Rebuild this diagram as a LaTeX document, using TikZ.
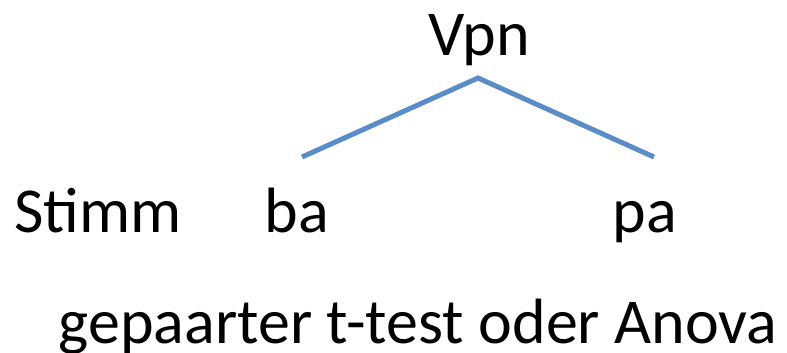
\documentclass[tikz,border=0pt]{standalone}
\usepackage{fontspec}
\setmainfont{Carlito}
\definecolor{branchblue}{RGB}{90,140,200}
\begin{document}
\begin{tikzpicture}[x=1pt,y=-1pt,
  lbl/.style={anchor=base,inner sep=0pt,font=\fontsize{64}{72}\selectfont},
  branch/.style={draw=branchblue,line width=5pt}]
\useasboundingbox (0,0) rectangle (787,353);
\node[lbl] (vpn) at (479,56) {Vpn};
\node[lbl,anchor=base west] (stimm) at (14,232) {Stimm};
\node[lbl] (ba) at (297,232) {ba};
\node[lbl] (pa) at (645,232) {pa};
\node[lbl] (test) at (418,343) {gepaarter t-test oder Anova};
\coordinate (top) at (478,78);
\coordinate (left) at (302,157);
\coordinate (right) at (654,157);
\draw[branch] (left) -- (top) -- (right);
\end{tikzpicture}
\end{document}
